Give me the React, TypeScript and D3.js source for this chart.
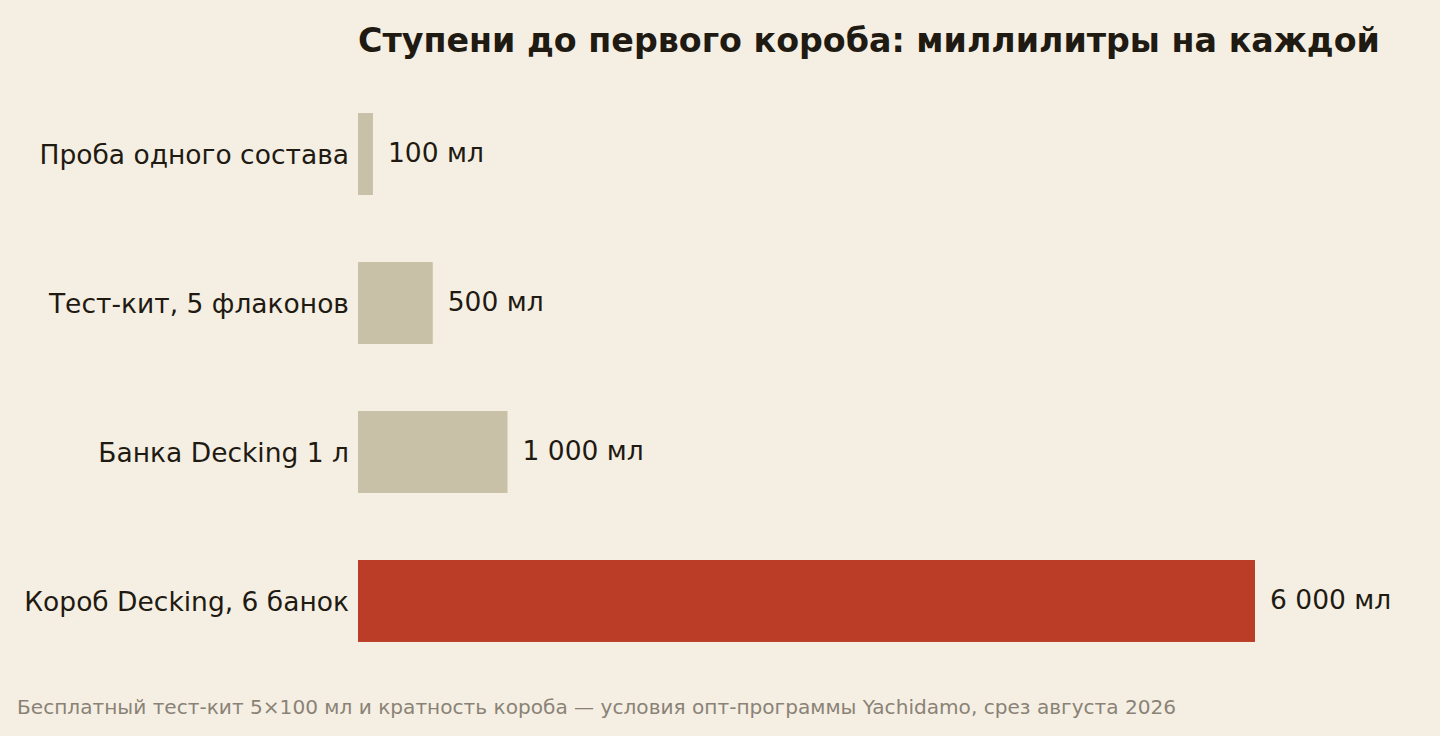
import * as d3 from "d3";

const categories = [
  "Проба одного состава",
  "Тест-кит, 5 флаконов",
  "Банка Decking 1 л",
  "Короб Decking, 6 банок",
];
const volumes = [100, 500, 1000, 6000];
const highlight = [false, false, false, true];

const title = "Ступени до первого короба: миллилитры на каждой";
const note =
  "Бесплатный тест-кит 5×100 мл и кратность короба — условия опт-программы Yachidamo, срез августа 2026";

const fmt = (v: number) => d3.format(",")(v).replace(/,/g, "\u00a0") + " мл";

export default function App() {
  const w = 1440,
    h = 736;
  const font = "'DejaVu Sans', sans-serif";

  const x = d3.scaleLinear().domain([0, 6000]).range([358, 1255]);
  const y = d3
    .scaleBand<string>()
    .domain(categories)
    .range([46, 709])
    .paddingInner(0.45)
    .paddingOuter(0.45);

  return (
    <svg
      width={w}
      height={h}
      style={{ position: "absolute", left: 0, top: 0, background: "#f5efe3" }}
      fontFamily={font}
    >
      <rect width={w} height={h} fill="#f5efe3" />
      <text x={358} y={52} fontSize={33.3} fontWeight="bold" fill="#1f1a12">
        {title}
      </text>
      {categories.map((c, i) => {
        const yc = y(c)! + y.bandwidth() / 2;
        return (
          <g key={c}>
            <rect
              x={x(0)}
              y={y(c)}
              width={x(volumes[i]) - x(0)}
              height={y.bandwidth()}
              fill={highlight[i] ? "#bb3d27" : "#c9c0a8"}
            />
            <text
              x={349}
              y={yc + 10}
              textAnchor="end"
              fontSize={26.5}
              fill="#1f1a12"
            >
              {c}
            </text>
            <text x={x(volumes[i]) + 15} y={yc + 8} fontSize={26.5} fill="#1f1a12">
              {fmt(volumes[i])}
            </text>
          </g>
        );
      })}
      <text x={17} y={714} fontSize={20.1} fill="#8a8276">
        {note}
      </text>
    </svg>
  );
}
